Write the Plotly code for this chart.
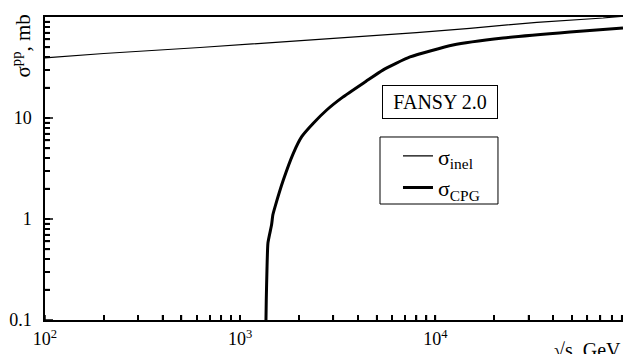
import plotly.graph_objects as go

# sigma_inel (thin line)
inel_sqrt_s = [100, 200, 622, 1500, 3243, 4624, 8000, 15000, 33100, 72300, 90000]
inel_sigma = [39.3, 43.5, 49.9, 56.0, 61.9, 64.8, 70.0, 77.3, 88.6, 97.8, 101.5]

# sigma_CPG (thick line)
cpg_sqrt_s = [1355, 1360, 1371, 1387, 1447, 1470, 1508, 1663, 1871, 2066, 2369, 2774, 3340,
              4400, 5380, 7413, 12300, 22200, 48900, 91400]
cpg_sigma = [0.1, 0.158, 0.31, 0.578, 0.87, 1.10, 1.32, 2.43, 4.47, 6.53, 8.87, 12.0, 16.0,
             23.0, 29.8, 40.2, 52.8, 61.9, 71.0, 77.8]

x_major = [100, 1000, 10000]
x_major_text = ["10<sup>2</sup>", "10<sup>3</sup>", "10<sup>4</sup>"]
y_major = [0.1, 1, 10, 100]
y_major_text = ["0.1", "1", "10", ""]

x_minor = [m * 10**e for e in (2, 3, 4) for m in range(2, 10)]
y_minor = [m * 10**e for e in (-1, 0, 1) for m in range(2, 10)]

X_RANGE = [2, 4.961]
Y_RANGE = [-1, 2]
W, H = 623, 354
M = dict(l=45, r=0, t=17, b=34)
PLOT_W = W - M["l"] - M["r"]
PLOT_H = H - M["t"] - M["b"]

FONT = "Liberation Serif"

fig = go.Figure()
fig.add_trace(go.Scatter(x=inel_sqrt_s, y=inel_sigma, mode="lines",
                         line=dict(color="black", width=1.2),
                         name="σ<sub>inel</sub>\u00a0\u00a0\u00a0"))
fig.add_trace(go.Scatter(x=cpg_sqrt_s, y=cpg_sigma, mode="lines",
                         line=dict(color="black", width=3, shape="spline", smoothing=0.5),
                         name="σ<sub>CPG</sub>"))


# inside tick marks (thin line traces placed through the axes' own scales)
def xticks(vals, length_px):
    dy = length_px / PLOT_H * (Y_RANGE[1] - Y_RANGE[0])
    xs, ys = [], []
    for v in vals:
        xs += [v, v, None]
        ys += [10 ** Y_RANGE[0], 10 ** (Y_RANGE[0] + dy), None]
    return xs, ys


def yticks(vals, length_px):
    dx = length_px / PLOT_W * (X_RANGE[1] - X_RANGE[0])
    xs, ys = [], []
    for v in vals:
        xs += [10 ** X_RANGE[0], 10 ** (X_RANGE[0] + dx), None]
        ys += [v, v, None]
    return xs, ys


for xs, ys in (xticks(x_major + x_minor, 5), yticks(y_major[:-1], 8), yticks(y_minor, 5)):
    fig.add_trace(go.Scatter(x=xs, y=ys, mode="lines", line=dict(color="black", width=1.5),
                             connectgaps=False, showlegend=False, hoverinfo="skip",
                             cliponaxis=False))

fig.update_layout(
    width=W, height=H,
    margin=dict(**M, autoexpand=False),
    paper_bgcolor="white", plot_bgcolor="white",
    font=dict(family=FONT, size=18, color="black"),
    showlegend=True,
    legend=dict(x=0.6107, y=0.61, xanchor="left", yanchor="top",
                borderwidth=0, bgcolor="rgba(0,0,0,0)",
                font=dict(family=FONT, size=22), itemwidth=30),
    shapes=[dict(type="rect", xref="paper", yref="paper",
                 x0=0.5796, x1=0.7837, y0=0.3828, y1=0.604,
                 line=dict(color="black", width=1), layer="below")],
)
fig.update_xaxes(
    type="log", range=X_RANGE, automargin=False,
    showline=True, linecolor="black", linewidth=1.5, mirror=True,
    showgrid=False, zeroline=False,
    tickmode="array", tickvals=x_major + x_minor,
    ticktext=x_major_text + [" "] * len(x_minor),
    ticks="inside", ticklen=5, tickwidth=1.5, tickcolor="black",
    ticklabelstandoff=2,
    tickfont=dict(family=FONT, size=18),
)
fig.update_yaxes(
    type="log", range=Y_RANGE, automargin=False,
    showline=True, linecolor="black", linewidth=1.5, mirror=False,
    showgrid=False, zeroline=False,
    tickmode="array", tickvals=y_major + y_minor,
    ticktext=y_major_text + [" "] * len(y_minor),
    ticks="inside", ticklen=5, tickwidth=1.5, tickcolor="black",
    ticklabelstandoff=8,
    tickfont=dict(family=FONT, size=18),
)

fig.add_annotation(text="√s, GeV", xref="paper", yref="paper", x=1.0, y=-0.056,
                   xanchor="right", yanchor="top", showarrow=False,
                   font=dict(family=FONT, size=20))
fig.add_annotation(text="σ<sup>pp</sup>, mb", xref="paper", yref="paper",
                   x=-0.0398, y=1.0165, xanchor="center", yanchor="top",
                   textangle=-90, showarrow=False,
                   font=dict(family=FONT, size=21))
fig.add_annotation(text="FANSY 2.0", xref="paper", yref="paper",
                   x=0.583, y=0.7756, xanchor="left", yanchor="top",
                   width=110, height=28, align="center",
                   showarrow=False, bordercolor="black", borderwidth=1,
                   borderpad=2, bgcolor="white",
                   font=dict(family=FONT, size=20))

fig.write_html("out.html", config={"displayModeBar": False},
               post_script="document.body.style.margin='0';document.body.style.overflow='hidden';")
